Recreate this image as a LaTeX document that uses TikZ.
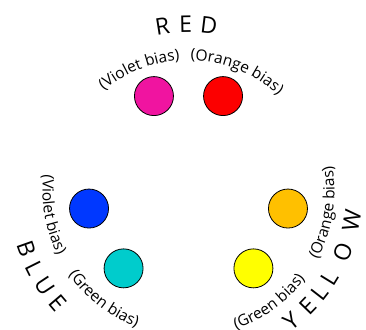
\documentclass[tikz,border=0pt]{standalone}
\usepackage{fontspec}
\setmainfont{Open Sans}
\usetikzlibrary{decorations.text,calc}
\newcommand\biasfont{\fontsize{15.5pt}{18pt}\selectfont}
\newcommand\namefont{\fontsize{23pt}{27pt}\selectfont}
\definecolor{cMag}{RGB}{240,20,160}
\definecolor{cRed}{RGB}{252,0,0}
\definecolor{cBlue}{RGB}{0,56,255}
\definecolor{cCyan}{RGB}{0,204,204}
\definecolor{cOrange}{RGB}{255,192,0}
\definecolor{cYellow}{RGB}{255,255,0}
\begin{document}
\begin{tikzpicture}[x=1pt,y=1pt,
  dot/.style={circle, draw=black, line width=0.8pt, minimum size=39pt, inner sep=0pt},
  namech/.style={inner sep=0pt, font=\namefont},
  outbias/.style={decorate, decoration={text along path, text align=center, text={|\biasfont|#1}}},
]
\useasboundingbox (0,0) rectangle (366,329);
\coordinate (c) at (188.5,138);
% circles
\node[dot, fill=cMag]    (mag) at ($(c)+(110:101)$) {};
\node[dot, fill=cRed]    (red) at ($(c)+(70:101)$) {};
\node[dot, fill=cBlue]   (blu) at ($(c)+(190:101)$) {};
\node[dot, fill=cCyan]   (cya) at ($(c)+(230:101)$) {};
\node[dot, fill=cOrange] (ora) at ($(c)+(-10:101)$) {};
\node[dot, fill=cYellow] (yel) at ($(c)+(-50:101)$) {};
% bias texts, top (clockwise, tops outward)
\path[outbias={(Violet bias)}] ($(c)+(137:131)$) arc[start angle=137, end angle=87, radius=131];
\path[outbias={(Orange bias)}] ($(c)+(93:131)$) arc[start angle=93, end angle=43, radius=131];
% bias texts, counterclockwise (tops inward)
\path[outbias={(Violet bias)}] ($(c)+(165:146)$) arc[start angle=165, end angle=215, radius=146];
\path[outbias={(Green bias)}] ($(c)+(207:146)$) arc[start angle=207, end angle=257, radius=146];
\path[outbias={(Green bias)}] ($(c)+(-79:146)$) arc[start angle=-79, end angle=-29, radius=146];
\path[outbias={(Orange bias)}] ($(c)+(-34:146)$) arc[start angle=-34, end angle=16, radius=146];
% names
\foreach \a/\l [count=\i] in {99/R,91/E,83/D}
  \node[namech, rotate=\a-90] (nred\i) at ($(c)+(\a:167)$) {\l};
\foreach \a/\l [count=\i] in {199.5/B,206.5/L,213.5/U,220.5/E}
  \node[namech, rotate=\a+90] (nblue\i) at ($(c)+(\a:172)$) {\l};
\foreach \a/\l [count=\i] in {-51.5/Y,-44/E,-37.8/L,-31.6/L,-21.7/O,-10.3/W}
  \node[namech, rotate=\a+90] (nyel\i) at ($(c)+(\a:166)$) {\l};
\end{tikzpicture}
\end{document}
